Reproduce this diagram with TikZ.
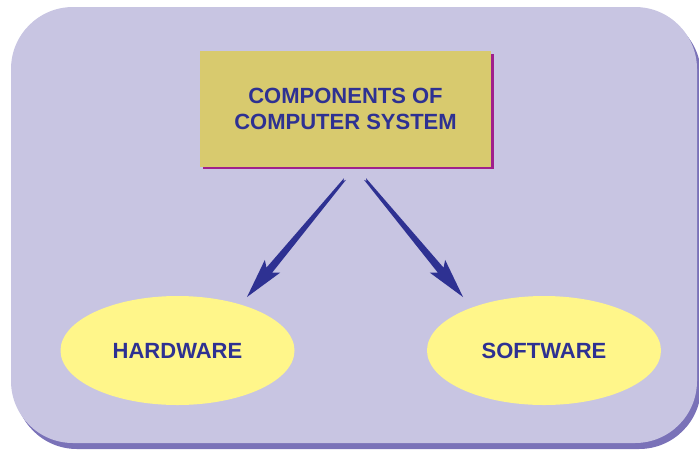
\documentclass[tikz,border=0pt]{standalone}
\usepackage{fontspec}
\setmainfont{Liberation Sans}
\usetikzlibrary{shapes.geometric,calc}

\definecolor{panel}{HTML}{C8C5E2}
\definecolor{panelshadow}{HTML}{7A72B8}
\definecolor{titlefill}{HTML}{D8CA6E}
\definecolor{titleshadow}{HTML}{A0208C}
\definecolor{ovalfill}{HTML}{FFF68A}
\definecolor{ink}{HTML}{2E3192}

% tapered arrow from a tail coordinate to a tip coordinate
\newcommand{\taperarrow}[2]{%
  \coordinate (#1-hb) at ($(#2)!35pt!(#1)$);
  \coordinate (#1-bb) at ($(#2)!40pt!(#1)$);
  \fill[ink] ($(#1)!1.3pt!90:(#2)$) -- ($(#1-hb)!3.8pt!90:(#2)$)
    -- ($(#1-bb)!10pt!90:(#2)$) -- (#2) -- ($(#1-bb)!10pt!-90:(#2)$)
    -- ($(#1-hb)!3.8pt!-90:(#2)$) -- ($(#1)!1.3pt!-90:(#2)$)
    -- ($(#1)!2.5pt!(#2)$) -- cycle;
}

\begin{document}
\begin{tikzpicture}[x=1pt, y=-1pt,
    labeltext/.style={font=\bfseries\fontsize{22}{26.5}\selectfont, text=ink, align=center},
    oval/.style={ellipse, fill=ovalfill, minimum width=234pt, minimum height=109pt, inner sep=0pt, labeltext}]
      \useasboundingbox (0,0) rectangle (699,451);

      % panel
      \fill[panelshadow, rounded corners=62pt] (15,13) rectangle (701,449);
      \fill[panel, rounded corners=62pt] (11,7) rectangle (697,443);

      % title box
      \fill[titleshadow] (203,54) rectangle (494,169);
      \node[fill=titlefill, minimum width=291pt, minimum height=116pt, inner sep=0pt, labeltext]
        (title) at (345.5,109) {COMPONENTS OF\\COMPUTER SYSTEM};

      \node[oval] (hardware) at (177.5,350.5) {HARDWARE};
      \node[oval] (software) at (544,350.5) {SOFTWARE};

      \coordinate (hwtail) at (345,179);
      \coordinate (hwtip) at (247,297);
      \coordinate (swtail) at (365,179);
      \coordinate (swtip) at (463,297);

      \taperarrow{hwtail}{hwtip}
      \taperarrow{swtail}{swtip}
    \end{tikzpicture}
\end{document}
